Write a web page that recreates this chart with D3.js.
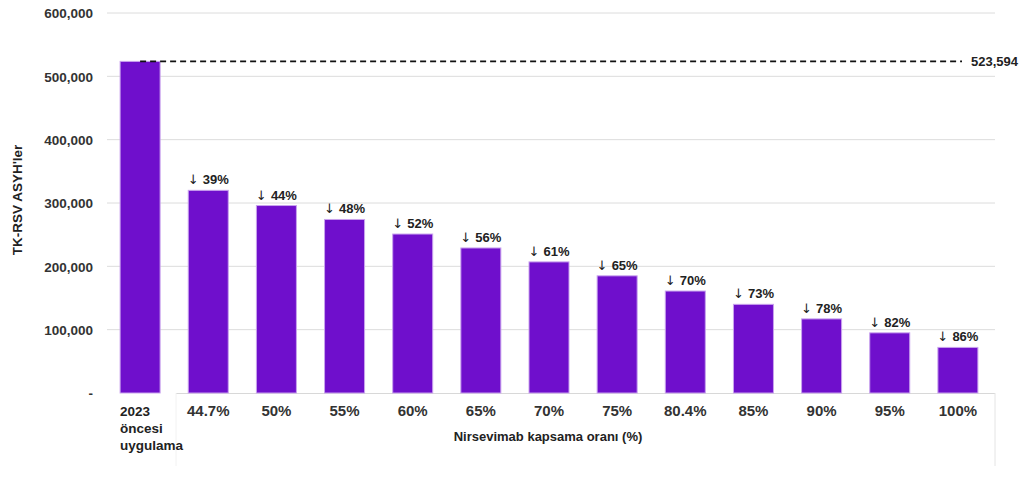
<!DOCTYPE html>
<html>
<head>
<meta charset="utf-8">
<script src="https://cdn.jsdelivr.net/npm/d3@7"></script>
<style>
  body { margin: 0; background: #fff; }
  text { font-family: "Liberation Sans", Arial, sans-serif; }
</style>
</head>
<body>
<div id="chart"></div>
<script>
var categories = ["2023 öncesi uygulama", "44.7%", "50%", "55%", "60%", "65%", "70%", "75%", "80.4%", "85%", "90%", "95%", "100%"];
var values = [523594, 320000, 296000, 274000, 251000, 229000, 207000, 185000, 161000, 140000, 117000, 95000, 72000];
var reductions = [null, "39%", "44%", "48%", "52%", "56%", "61%", "65%", "70%", "73%", "78%", "82%", "86%"];
var yTicks = [0, 100000, 200000, 300000, 400000, 500000, 600000];
var refValue = 523594;

var fullWidth = 1024;
var fullHeight = 480;

var svg = d3.select("#chart")
            .append("svg")
            .attr("width", fullWidth)
            .attr("height", fullHeight);

var xScale = d3.scaleBand().domain(categories).range([106, 992]).paddingInner(0.413).paddingOuter(0.207);
var yScale = d3.scaleLinear().domain([0, 600000]).range([393, 13]);

// gridlines
svg.append("g")
   .selectAll("line")
   .data(yTicks.filter(function(d){ return d > 0; }))
   .enter().append("line")
   .attr("x1", 107).attr("x2", 995)
   .attr("y1", function(d){ return yScale(d); })
   .attr("y2", function(d){ return yScale(d); })
   .attr("stroke", "#dcdcdc").attr("stroke-width", 1);

// y axis labels
var yAxis = d3.axisLeft(yScale).tickValues(yTicks).tickSize(0)
              .tickFormat(function(d){ return d === 0 ? "-" : d3.format(",")(d); });
var yg = svg.append("g").attr("transform", "translate(93,0)").call(yAxis);
yg.select(".domain").remove();
yg.selectAll("text").attr("x", 0).attr("dy", "0.35em")
  .style("font-size", "13.5px").style("font-weight", "bold").attr("fill", "#333");

// baseline + frame lines
svg.append("line").attr("x1", 176).attr("x2", 995).attr("y1", 393.5).attr("y2", 393.5)
   .attr("stroke", "#d8d8d8");
svg.append("line").attr("x1", 995).attr("x2", 995).attr("y1", 393).attr("y2", 466)
   .attr("stroke", "#e4e4e4");
svg.append("line").attr("x1", 176).attr("x2", 176).attr("y1", 393).attr("y2", 466)
   .attr("stroke", "#f2f2f2");

// bars
svg.append("g")
   .selectAll("rect")
   .data(values)
   .enter().append("rect")
   .attr("x", function(d, i){ return xScale(categories[i]); })
   .attr("width", xScale.bandwidth())
   .attr("y", function(d){ return yScale(d); })
   .attr("height", function(d){ return yScale(0) - yScale(d); })
   .attr("fill", "#6f0fcc")
   .attr("stroke", "#c9a3ee").attr("stroke-width", 1);

// dashed reference line
svg.append("line")
   .attr("x1", xScale(categories[0]) + xScale.bandwidth() / 2)
   .attr("x2", 962)
   .attr("y1", yScale(refValue)).attr("y2", yScale(refValue))
   .attr("stroke", "#111").attr("stroke-width", 1.6).attr("stroke-dasharray", "6,4");
svg.append("text")
   .attr("x", 971).attr("y", yScale(refValue)).attr("dy", "0.35em")
   .style("font-size", "13px").style("font-weight", "bold").attr("fill", "#222")
   .text(d3.format(",")(refValue));

// reduction labels
var labelData = [];
values.forEach(function(v, i){
  if (reductions[i] !== null) labelData.push({ cat: categories[i], value: v, red: reductions[i] });
});
var lab = svg.append("g")
   .selectAll("text")
   .data(labelData)
   .enter().append("text")
   .attr("x", function(d){ return xScale(d.cat) + xScale.bandwidth() / 2; })
   .attr("y", function(d){ return yScale(d.value) - 6; })
   .attr("text-anchor", "middle")
   .style("font-size", "13px").attr("fill", "#222");
lab.append("tspan").style("font-family", "DejaVu Sans").style("font-weight", "normal")
   .attr("fill", "#222").style("font-size", "13px").text("↓ ");
lab.append("tspan").style("font-weight", "bold").attr("fill", "#222").text(function(d){ return d.red; });

// x labels
var xl = svg.append("g");
categories.forEach(function(c, i){
  if (i === 0) {
    var t = xl.append("text").attr("x", xScale(c)).attr("y", 416)
      .style("font-size", "13.5px").style("font-weight", "bold").attr("fill", "#222");
    ["2023", "öncesi", "uygulama"].forEach(function(w, j){
      t.append("tspan").attr("x", xScale(c)).attr("dy", j === 0 ? 0 : 17).text(w);
    });
  } else {
    xl.append("text").attr("x", xScale(c) + xScale.bandwidth() / 2).attr("y", 416)
      .attr("text-anchor", "middle")
      .style("font-size", "15px").style("font-weight", "bold").attr("fill", "#333")
      .text(c);
  }
});

// axis titles
svg.append("text").attr("x", 548).attr("y", 441).attr("text-anchor", "middle")
   .style("font-size", "13px").style("font-weight", "bold").attr("fill", "#222")
   .text("Nirsevimab kapsama oranı (%)");
svg.append("text")
   .attr("transform", "translate(22,200) rotate(-90)")
   .attr("text-anchor", "middle")
   .style("font-size", "13.5px").style("font-weight", "bold").attr("fill", "#222")
   .text("TK-RSV ASYH'ler");
</script>
</body>
</html>
